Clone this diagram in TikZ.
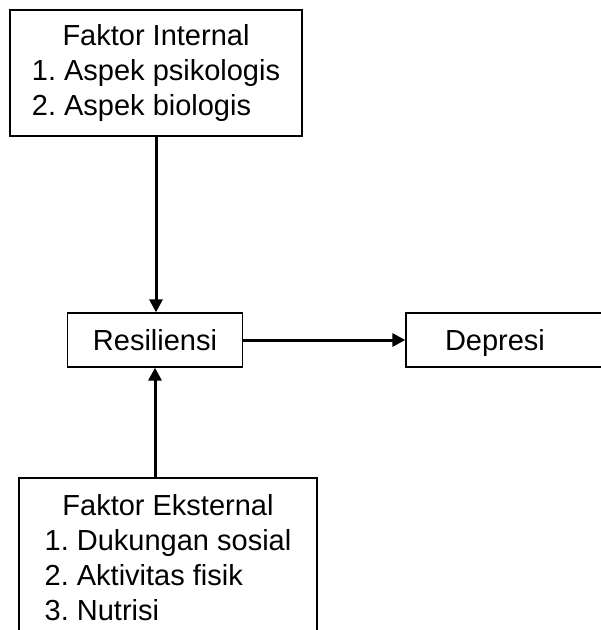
\documentclass[tikz,border=0pt]{standalone}
\usepackage{fontspec}
\setmainfont{Liberation Sans}
\usetikzlibrary{arrows.meta}
\frenchspacing

\begin{document}
\begin{tikzpicture}[x=1pt,y=-1pt,
        box/.style={draw,line width=1.3pt,inner sep=0pt,
            font=\fontsize{29}{35}\selectfont},
        single/.style={box,text height=20pt,text depth=0pt},
        arr/.style={line width=3pt,-{Triangle[length=13pt,width=13pt]}}]
    \clip (0,0) rectangle (601,630);
    \node[box,minimum width=292,minimum height=126] (intern) at (156,73)
        {\begin{tabular}{@{}l@{}}
            \multicolumn{1}{@{}c@{}}{Faktor Internal}\\
            1. Aspek psikologis\\
            2. Aspek biologis
        \end{tabular}};
    \node[single,minimum width=175,minimum height=54] (res) at (155,340) {Resiliensi};
    \node[single,minimum height=54,text width=136,inner xsep=39pt,align=left] (dep) at (513,340) {Depresi};
    \node[box,minimum width=298,minimum height=166] (ekstern) at (168,561)
        {\begin{tabular}{@{}l@{}}
            \multicolumn{1}{@{}c@{}}{Faktor Eksternal}\\
            1. Dukungan sosial\\
            2. Aktivitas fisik\\
            3. Nutrisi
        \end{tabular}};
    \draw[arr] (intern.south) -- (intern.south |- res.north);
    \draw[arr] (ekstern.north -| res.south) -- (res.south);
    \draw[arr] (res.east) -- (dep.west);
\end{tikzpicture}
\end{document}
